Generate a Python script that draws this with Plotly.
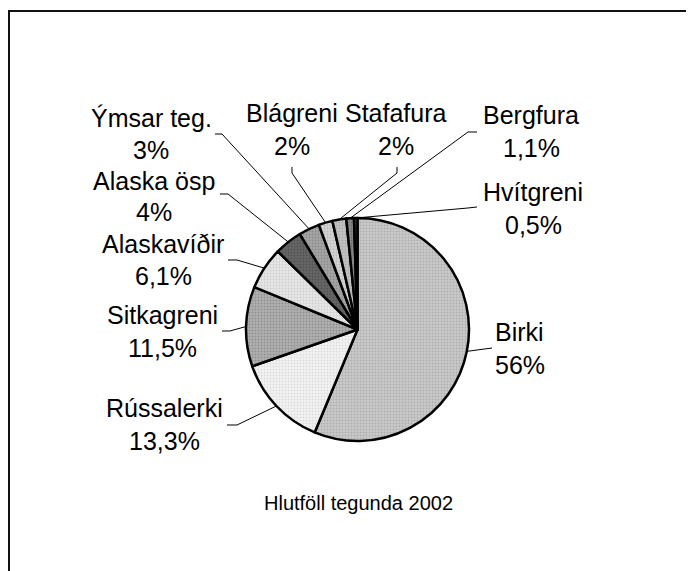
import math
import plotly.graph_objects as go

# ---- data ----
labels = ["Birki", "Rússalerki", "Sitkagreni", "Alaskavíðir", "Alaska ösp",
          "Ýmsar teg.", "Blágreni", "Stafafura", "Bergfura", "Hvítgreni"]
values = [56, 13.3, 11.5, 6.1, 4, 3, 2, 2, 1.1, 0.5]
chart_title = "Hlutföll tegunda 2002"

# ---- styling ----
fill_colors = ["#cacaca", "#f2f2f2", "#b0b0b0", "#e6e6e6", "#666666",
               "#a6a6a6", "#d4d4d4", "#c4c4c4", "#8a8a8a", "#3a3a3a"]
pattern_fg = ["#909090", "#c8c8c8", "#707070", "#b8b8b8", "#404040",
              "#707070", "#a0a0a0", "#909090", "#505050", "#000000"]

W, H = 694, 571
OFF = 8                         # page body margin
CX, CY, R = 357.5, 329.5, 111.5   # pie centre / radius in page pixels
FONT = "Liberation Sans, Arial, sans-serif"
LABEL_SIZE = 25

# label layout: page-pixel centres of the name line and the percent line
label_pos = {
    "Birki": (520, 332, 365),
    "Rússalerki": (164, 408, 441),
    "Sitkagreni": (162, 315, 348),
    "Alaskavíðir": (163, 244, 276),
    "Alaska ösp": (154, 181, 212),
    "Ýmsar teg.": (151, 118, 150),
    "Blágreni": (292, 113, 146),
    "Stafafura": (396, 113, 146),
    "Bergfura": (531, 115, 148),
    "Hvítgreni": (533, 192, 225),
}
leader_end = {
    "Birki": [(492, 348)],
    "Rússalerki": [(227, 425), (237, 425)],
    "Sitkagreni": [(222, 331), (230, 331)],
    "Alaskavíðir": [(228, 260), (237, 260)],
    "Alaska ösp": [(220, 194), (228, 194)],
    "Ýmsar teg.": [(215, 134), (222, 134)],
    "Blágreni": [(292, 167), (292, 173)],
    "Stafafura": [(397, 167), (397, 173)],
    "Bergfura": [(477, 132), (468, 132)],
    "Hvítgreni": [(477, 207), (468, 208)],
}


def px(x):
    return (x - OFF) / W


def py(y):
    return 1 - (y - OFF) / H


def fmt_pct(v):
    if abs(v - round(v)) < 1e-9:
        return f"{int(round(v))}%"
    return f"{v}".replace(".", ",") + "%"


fig = go.Figure(go.Pie(
    labels=labels,
    values=values,
    sort=False,
    direction="clockwise",
    rotation=0,
    textinfo="none",
    hoverinfo="skip",
    showlegend=False,
    marker=dict(
        colors=fill_colors,
        line=dict(color="black", width=2.5),
        pattern=dict(shape=["."] * len(labels), fgcolor=pattern_fg,
                     bgcolor=fill_colors, size=3, solidity=0.35,
                     fillmode="overlay"),
    ),
    domain=dict(x=[px(CX - R), px(CX + R)], y=[py(CY + R), py(CY - R)]),
))

shapes = []
annotations = []
total = sum(values)
cum = 0.0
for lab, v in zip(labels, values):
    mid = (cum + v / 2) / total * 2 * math.pi
    cum += v
    ex = CX + R * math.sin(mid)
    ey = CY - R * math.cos(mid)
    pts = leader_end[lab] + [(ex, ey)]
    path = "M " + " L ".join(f"{px(a):.5f},{py(b):.5f}" for a, b in pts)
    shapes.append(dict(type="path", path=path, xref="paper", yref="paper",
                       line=dict(color="black", width=1)))
    lx, ly1, ly2 = label_pos[lab]
    annotations.append(dict(text=lab, x=px(lx), y=py(ly1), xref="paper", yref="paper",
                            showarrow=False, xanchor="center", yanchor="middle",
                            font=dict(size=LABEL_SIZE, color="black", family=FONT)))
    annotations.append(dict(text=fmt_pct(v), x=px(lx), y=py(ly2),
                            xref="paper", yref="paper", showarrow=False,
                            xanchor="center", yanchor="middle",
                            font=dict(size=LABEL_SIZE, color="black", family=FONT)))

annotations.append(dict(text=chart_title, x=px(358), y=py(503), xref="paper", yref="paper",
                        showarrow=False, xanchor="center", yanchor="middle",
                        font=dict(size=20, color="black", family=FONT)))

# outer chart frame (extends beyond the right/bottom edges of the picture)
shapes.append(dict(type="rect", xref="paper", yref="paper",
                   x0=px(9), y0=-0.2, x1=1.2, y1=py(11),
                   line=dict(color="#111111", width=2), layer="below"))

fig.update_layout(
    width=W, height=H,
    margin=dict(l=0, r=0, t=0, b=0),
    paper_bgcolor="white", plot_bgcolor="white",
    shapes=shapes, annotations=annotations,
    font=dict(family=FONT),
)

fig.write_html("out.html")
